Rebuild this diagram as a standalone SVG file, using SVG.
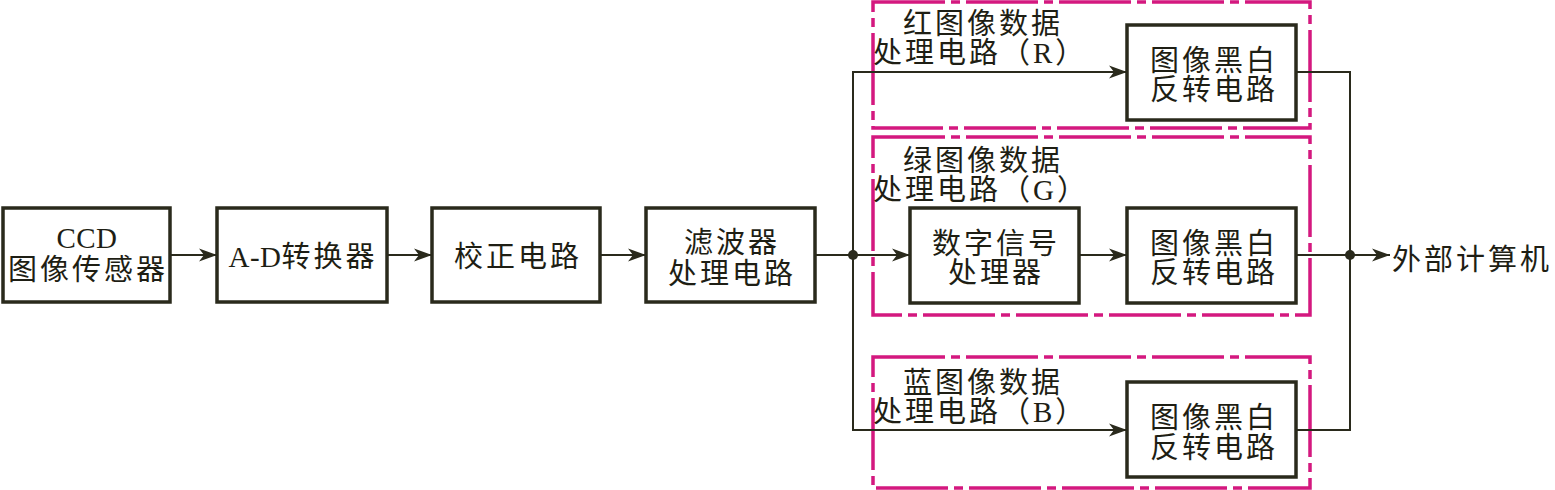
<svg xmlns="http://www.w3.org/2000/svg" width="1555" height="490" viewBox="0 0 1555 490">
<style>
.box{fill:#fff;stroke:#2a2a1c;stroke-width:3.5}
.grp{fill:none;stroke:#d4187f;stroke-width:3.5;stroke-dasharray:72 6 9 6}
.ln{fill:none;stroke:#2a2a1c;stroke-width:2}
.t{font-family:"Liberation Serif","Noto Sans CJK SC",serif;font-size:29px;fill:#1e1e14;letter-spacing:3px}
.c{text-anchor:middle}
.lat{letter-spacing:0.5px}
</style>
<defs>
<marker id="ah" markerUnits="userSpaceOnUse" markerWidth="20" markerHeight="16" refX="18" refY="8" orient="auto">
<path d="M0,1.5 L18,8 L0,14.5 L5,8 Z" fill="#2a2a1c"/>
</marker>
</defs>
<g id="groups">
<rect id="grpR" class="grp" x="873" y="2" width="437" height="126"/>
<rect id="grpG" class="grp" x="873" y="137" width="437" height="178"/>
<rect id="grpB" class="grp" x="873" y="357" width="437" height="131"/>
</g>
<g id="connectors">
<line class="ln" x1="170" y1="255" x2="217" y2="255" marker-end="url(#ah)"/>
<line class="ln" x1="387" y1="255" x2="432" y2="255" marker-end="url(#ah)"/>
<line class="ln" x1="600" y1="255" x2="646" y2="255" marker-end="url(#ah)"/>
<line class="ln" x1="815" y1="255" x2="910" y2="255" marker-end="url(#ah)"/>
<polyline class="ln" points="853,430 853,72 1127,72" marker-end="url(#ah)"/>
<polyline class="ln" points="853,255 853,430 1127,430" marker-end="url(#ah)"/>
<line class="ln" x1="1079" y1="255" x2="1127" y2="255" marker-end="url(#ah)"/>
<polyline class="ln" points="1296,72 1350,72 1350,430 1296,430"/>
<line class="ln" x1="1296" y1="255" x2="1390" y2="255" marker-end="url(#ah)"/>
<circle cx="853" cy="255" r="5" fill="#2a2a1c"/>
<circle cx="1350" cy="255" r="5" fill="#2a2a1c"/>
</g>
<g id="ccd"><rect class="box" x="3" y="208" width="167" height="94"/>
<text class="t c lat" x="87" y="248">CCD</text><text class="t c" x="88" y="280">图像传感器</text></g>
<g id="adc"><rect class="box" x="217" y="208" width="170" height="94"/>
<text class="t c" x="303" y="267"><tspan class="lat">A-D</tspan>转换器</text></g>
<g id="corr"><rect class="box" x="432" y="208" width="168" height="94"/>
<text class="t c" x="518" y="267">校正电路</text></g>
<g id="filter"><rect class="box" x="646" y="208" width="169" height="94"/>
<text class="t c" x="732" y="253">滤波器</text><text class="t c" x="732" y="284">处理电路</text></g>
<g id="labelR"><text class="t" x="903" y="34">红图像数据</text><text class="t" x="873" y="63">处理电路（R）</text></g>
<g id="invR"><rect class="box" x="1127" y="25" width="169" height="95"/>
<text class="t c" x="1214" y="71">图像黑白</text><text class="t c" x="1214" y="100">反转电路</text></g>
<g id="labelG"><text class="t" x="903" y="171">绿图像数据</text><text class="t" x="873" y="200">处理电路（G）</text></g>
<g id="dsp"><rect class="box" x="910" y="208" width="169" height="95"/>
<text class="t c" x="996" y="254">数字信号</text><text class="t c" x="996" y="283">处理器</text></g>
<g id="invG"><rect class="box" x="1127" y="208" width="169" height="95"/>
<text class="t c" x="1214" y="254">图像黑白</text><text class="t c" x="1214" y="283">反转电路</text></g>
<g id="labelB"><text class="t" x="903" y="393">蓝图像数据</text><text class="t" x="873" y="422">处理电路（B）</text></g>
<g id="invB"><rect class="box" x="1127" y="382" width="169" height="95"/>
<text class="t c" x="1214" y="428">图像黑白</text><text class="t c" x="1214" y="458">反转电路</text></g>
<g id="out"><text class="t" x="1392" y="270">外部计算机</text></g>
</svg>
